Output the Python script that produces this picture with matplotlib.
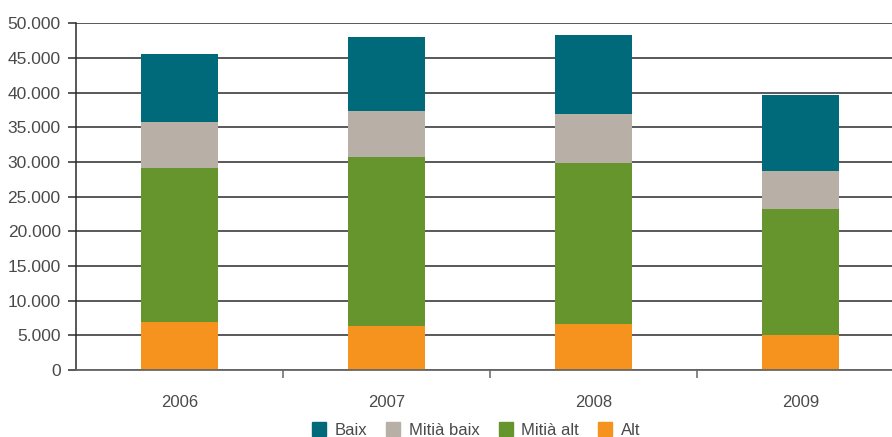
import matplotlib.pyplot as plt
import numpy as np
from matplotlib.patches import Patch

plt.rcParams['font.family'] = ['Liberation Sans', 'DejaVu Sans']

years = ['2006', '2007', '2008', '2009']
alt = [6900, 6350, 6650, 5050]
mitia_alt = [22200, 24350, 23200, 18150]
mitia_baix = [6700, 6650, 7050, 5500]
baix = [9800, 10650, 11400, 11000]

c_baix = '#006a7a'
c_mbaix = '#b8b0a6'
c_malt = '#66952d'
c_alt = '#f6921e'
txt = '#4a4a4a'

fig = plt.figure(figsize=(8.92, 4.37), dpi=100)
ax = fig.add_axes([76/892, 67/437, 828/892, 346.7/437])

x = np.arange(len(years))
w = 0.37
b1 = np.array(alt)
b2 = b1 + np.array(mitia_alt)
b3 = b2 + np.array(mitia_baix)
ax.bar(x, alt, w, color=c_alt, zorder=3)
ax.bar(x, mitia_alt, w, bottom=b1, color=c_malt, zorder=3)
ax.bar(x, mitia_baix, w, bottom=b2, color=c_mbaix, zorder=3)
ax.bar(x, baix, w, bottom=b3, color=c_baix, zorder=3)

ax.set_ylim(0, 50000)
ax.set_xlim(-0.5, 3.5)
yt = np.arange(0, 50001, 5000)
ax.set_yticks(yt)
ax.set_yticklabels([f'{v:,}'.replace(',', '.') for v in yt], fontsize=12.5, color=txt)
ax.yaxis.grid(True, color='#2b2b2b', linewidth=1.1, zorder=1)
ax.tick_params(axis='y', length=6, width=1.1, color='#2b2b2b', pad=5)

ax.set_xticks(x)
ax.set_xticklabels(years, fontsize=12, color=txt)
ax.set_xticks([0.5, 1.5, 2.5], minor=True)
ax.tick_params(axis='x', which='major', length=0, pad=18)
ax.tick_params(axis='x', which='minor', length=6, width=1.1, color='#666666')

for s in ['top', 'right']:
    ax.spines[s].set_visible(False)
ax.spines['left'].set_color('#2b2b2b')
ax.spines['left'].set_linewidth(1.1)
ax.spines['bottom'].set_color('#666666')
ax.spines['bottom'].set_linewidth(1.3)
ax.spines['bottom'].set_zorder(4)

handles = [Patch(color=c_baix, label='Baix'),
           Patch(color=c_mbaix, label='Mitià baix'),
           Patch(color=c_malt, label='Mitià alt'),
           Patch(color=c_alt, label='Alt')]
fig.legend(handles=handles, loc='center', bbox_to_anchor=(476/892, 1 - 430/437),
           ncol=4, frameon=False, fontsize=12, handlelength=0.85, handleheight=0.85,
           handletextpad=0.5, columnspacing=1.15, labelcolor=txt, borderaxespad=0)

fig.savefig('out.png', dpi=100)
